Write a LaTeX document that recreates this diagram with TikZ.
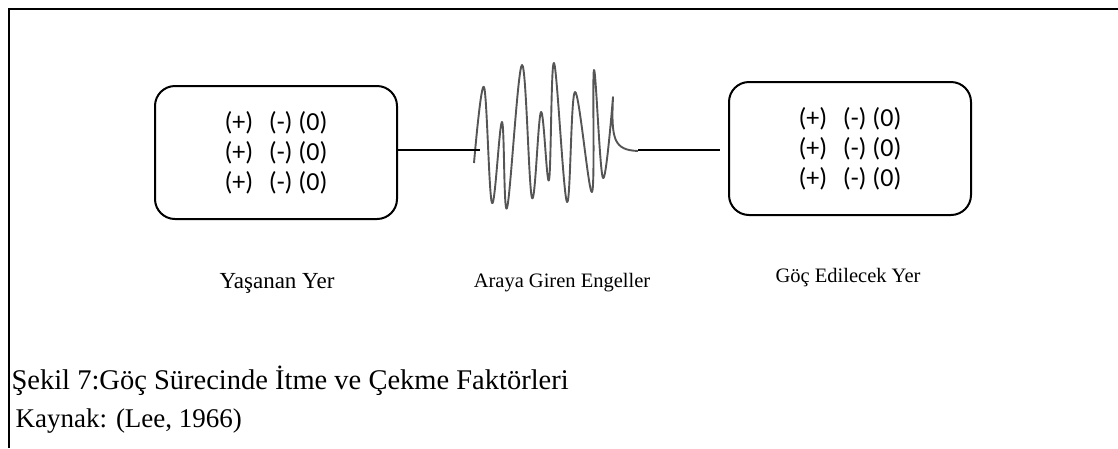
\documentclass[tikz,border=0pt]{standalone}
\usepackage{fontspec}
\setmainfont{Liberation Serif}
\newfontfamily\boxfont{Carlito}
\usetikzlibrary{positioning}
\definecolor{wavegray}{RGB}{85,85,85}

\newcommand{\pmzrow}{(+)\hspace{0.6em}(-) (0)}

\begin{document}
\begin{tikzpicture}[x=1pt,y=-1pt,
			place/.style={draw,rounded corners=20pt,line width=2pt,minimum width=242pt,minimum height=133pt,
				align=center,font=\boxfont\fontsize{26}{30}\selectfont},
			caption/.style={font=\fontsize{20.5}{24}\selectfont},
			source/.style={anchor=west,font=\fontsize{27}{32}\selectfont},
			link/.style={line width=1.2pt},
			wave/.style={line width=1.9pt,color=wavegray,line join=round}]
			\useasboundingbox (0,0) rectangle (1118,448);
			% frame
			\draw[line width=2.2pt] (8,9) -- (1118,9);
			\draw[line width=1.6pt] (9,8) -- (9,448);
			% places
			\node (lbox) [place] at (276,152.5) {\pmzrow\\\pmzrow\\\pmzrow};
			\node (rbox) [place] at (850,148.5) {\pmzrow\\\pmzrow\\\pmzrow};
			% obstacles
			\coordinate (wl) at (480,150);
			\coordinate (wr) at (638,150);
			\draw[wave] plot[smooth,tension=0.6] coordinates {
				(474,163) (484,87) (492,203) (502,122) (507,208) (522,65) (532,198) (541,112)
				(549,180) (554,63) (567,202) (575,92) (592,192) (594,70) (603,178) (613,97)}
				.. controls (611,140) and (614,150) .. (638,151);
			\draw[link] (lbox.east |- wl) -- (wl);
			\draw[link,shorten >=8pt] (wr) -- (rbox.west |- wr);
			% labels
			\node (lyer) [caption,font=\fontsize{23}{27}\selectfont] at (277,283) {Yaşanan Yer};
			\node (engel) [caption] at (562,283) {Araya Giren Engeller};
			\node (ryer) [caption] at (848,278) {Göç Edilecek Yer};
			\node (sekil) [source,font=\fontsize{28.5}{32}\selectfont] at (8,381) {Şekil 7:Göç Sürecinde İtme ve Çekme Faktörleri};
			\node (kaynak) [source] at (12,421) {Kaynak: (Lee, 1966)};
		\end{tikzpicture}
\end{document}
